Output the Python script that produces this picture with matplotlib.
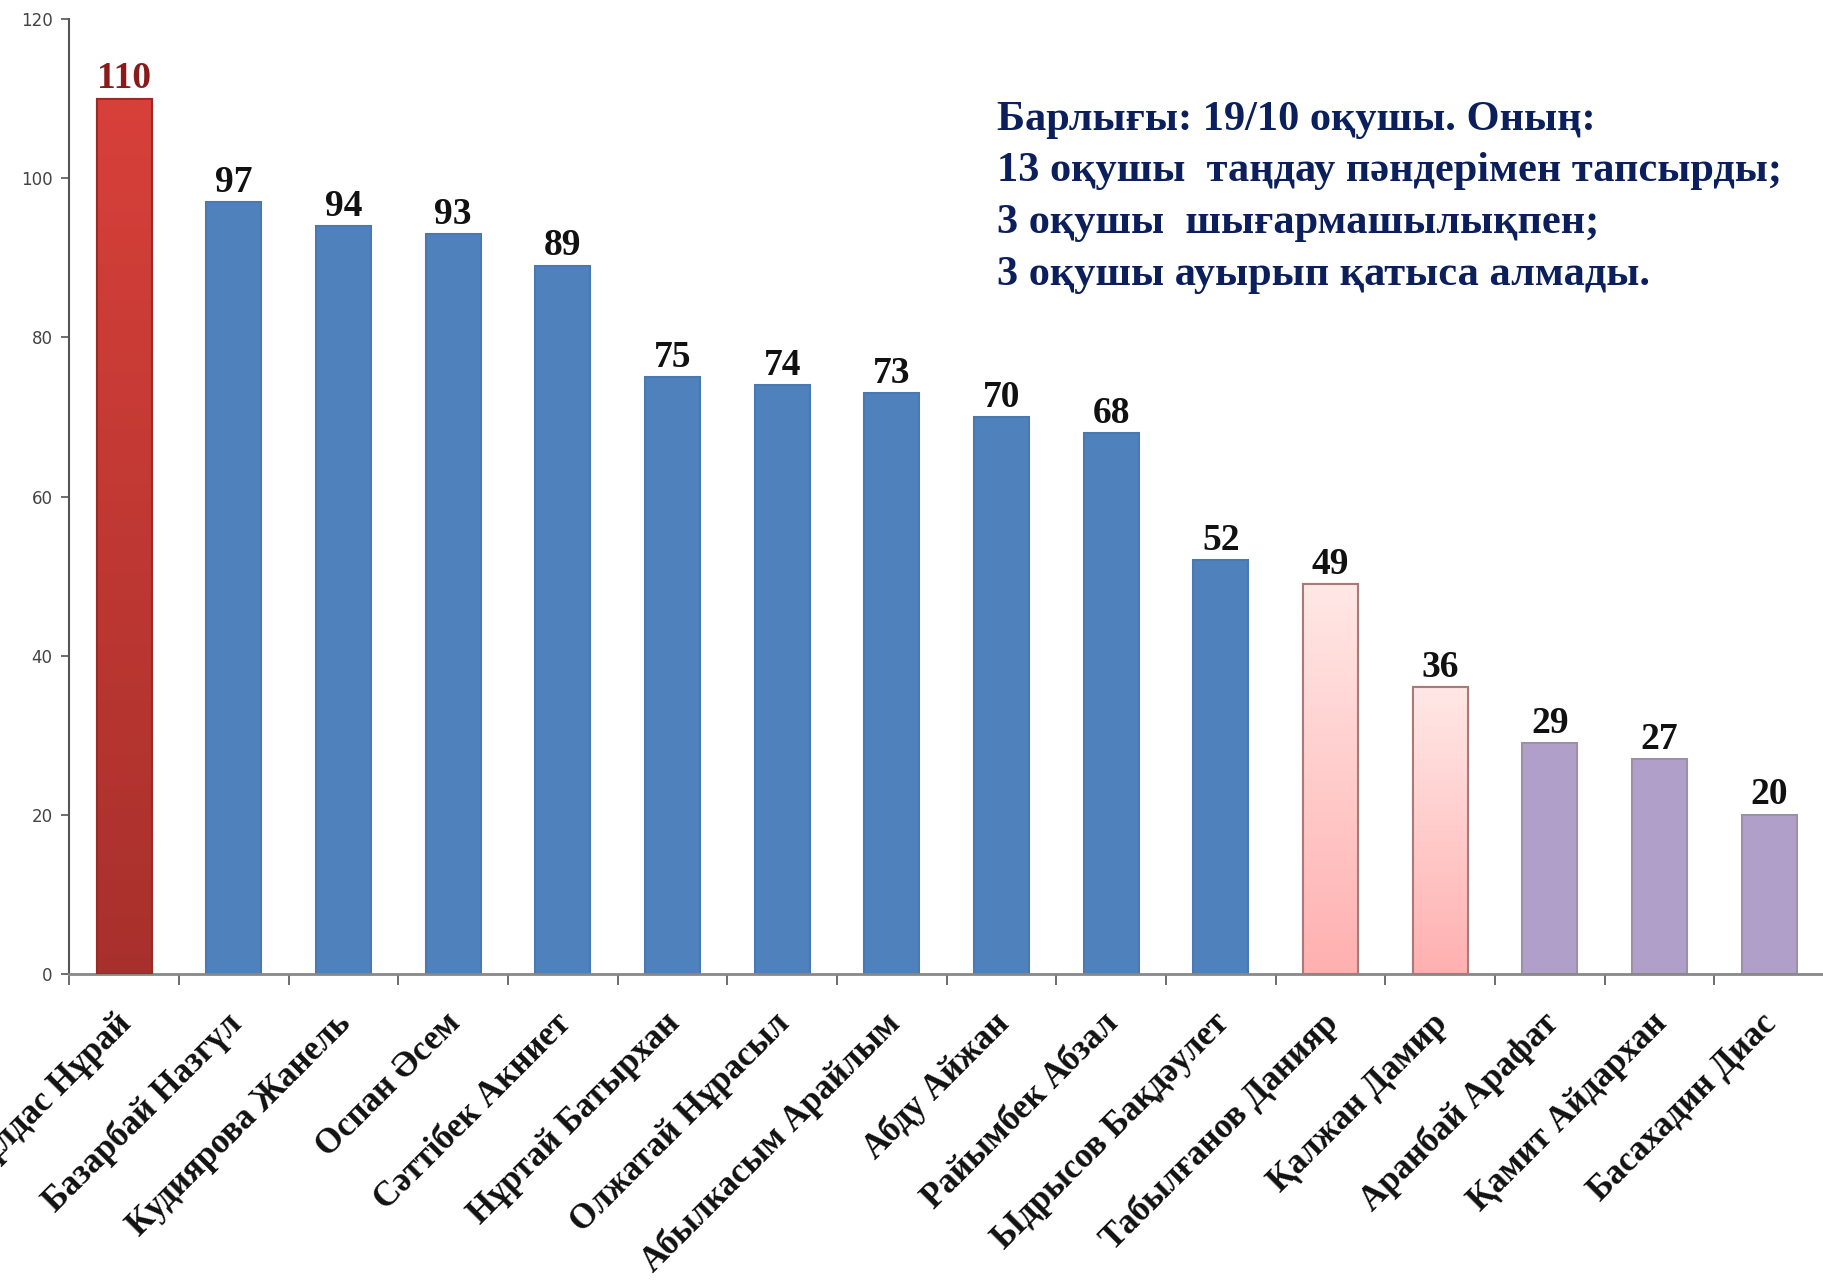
import matplotlib
matplotlib.use("Agg")
import matplotlib.pyplot as plt
import matplotlib.transforms as mtransforms
import numpy as np

names = ["Құлдас Нұрай", "Базарбай Назгүл", "Кудиярова Жанель", "Оспан Әсем",
         "Сәттібек Акниет", "Нұртай Батырхан", "Олжатай Нұрасыл", "Абылкасым Арайлым",
         "Абду Айжан", "Райымбек Абзал", "Ыдрысов Бақдәулет", "Табылғанов Данияр",
         "Қалжан Дамир", "Аранбай Арафат", "Қамит Айдархан", "Басахадин Диас"]
scores = [110, 97, 94, 93, 89, 75, 74, 73, 70, 68, 52, 49, 36, 29, 27, 20]
groups = ["top"] + ["blue"] * 10 + ["pink"] * 2 + ["purple"] * 3
yticks = [0, 20, 40, 60, 80, 100, 120]
note_lines = ["Барлығы: 19/10 оқушы. Оның:",
              "13 оқушы  таңдау пәндерімен тапсырды;",
              "3 оқушы  шығармашылықпен;",
              "3 оқушы ауырып қатыса алмады."]

fig = plt.figure(figsize=(18.24, 12.88), dpi=100)
ax = fig.add_axes([0.038, 0.244, 0.962, 0.741])

x = np.arange(len(scores))
styles = {
    "top": dict(face="#C83A32", edge="#9A2A25", grad=("#D8403A", "#A8302C")),
    "blue": dict(face="#4F81BD", edge="#4A78B0", grad=None),
    "pink": dict(face="#FFCCCC", edge="#A87A7A", grad=("#FFE8E6", "#FFB0B0")),
    "purple": dict(face="#B09FC8", edge="#9A90A8", grad=None),
}

for xi, v, g in zip(x, scores, groups):
    st = styles[g]
    bar = ax.bar(xi, v, width=0.5, color=st["face"], edgecolor=st["edge"],
                 linewidth=1.5, zorder=2)[0]
    if st["grad"] is not None:
        c_top = np.array(matplotlib.colors.to_rgb(st["grad"][0]))
        c_bot = np.array(matplotlib.colors.to_rgb(st["grad"][1]))
        t = np.linspace(0, 1, 256)[:, None]
        img = (c_top[None, :] * (1 - t) + c_bot[None, :] * t)[:, None, :]
        im = ax.imshow(img, extent=(xi - 0.25, xi + 0.25, 0, v), origin="upper",
                       aspect="auto", zorder=2.5, interpolation="bilinear")
        im.set_clip_path(bar)
        ax.bar(xi, v, width=0.5, color="none", edgecolor=st["edge"],
               linewidth=1.5, zorder=3)
    ax.text(xi, v + 0.3, str(v), ha="center", va="bottom",
            fontsize=27, fontweight="bold", family="Liberation Serif",
            color="#8B1A1A" if g == "top" else "#111111", zorder=4)

ax.set_xlim(-0.5, len(scores) - 0.5)
ax.set_ylim(0, 120)
ax.set_yticks(yticks)
ax.set_yticklabels([str(t) for t in yticks], fontsize=12, color="#444444",
                   family="DejaVu Sans")
ax.tick_params(axis="y", length=6, color="#555555", width=1.2, pad=6)

ax.set_xticks(x)
ax.set_xticklabels(names, rotation=45, ha="right", rotation_mode="anchor",
                   fontsize=25, fontweight="bold", family="Liberation Serif",
                   color="#111111")
ax.tick_params(axis="x", length=0, pad=24)
shift = mtransforms.ScaledTranslation(-0.09, 0, fig.dpi_scale_trans)
for lbl in ax.get_xticklabels():
    lbl.set_transform(lbl.get_transform() + shift)
ax.set_xticks(np.arange(-0.5, len(scores), 1.0), minor=True)
ax.tick_params(axis="x", which="minor", length=8, color="#555555", width=1.2)

for s in ["top", "right"]:
    ax.spines[s].set_visible(False)
ax.spines["left"].set_color("#555555")
ax.spines["left"].set_linewidth(1.5)
ax.spines["bottom"].set_color("#888888")
ax.spines["bottom"].set_linewidth(2)

y0 = 0.907
for i, line in enumerate(note_lines):
    fig.text(0.5466, y0 - i * 0.0401, line, fontsize=30.5, fontweight="bold",
             family="Liberation Serif", color="#0B1F5C", ha="left", va="center")

fig.savefig("out.png", dpi=100)
